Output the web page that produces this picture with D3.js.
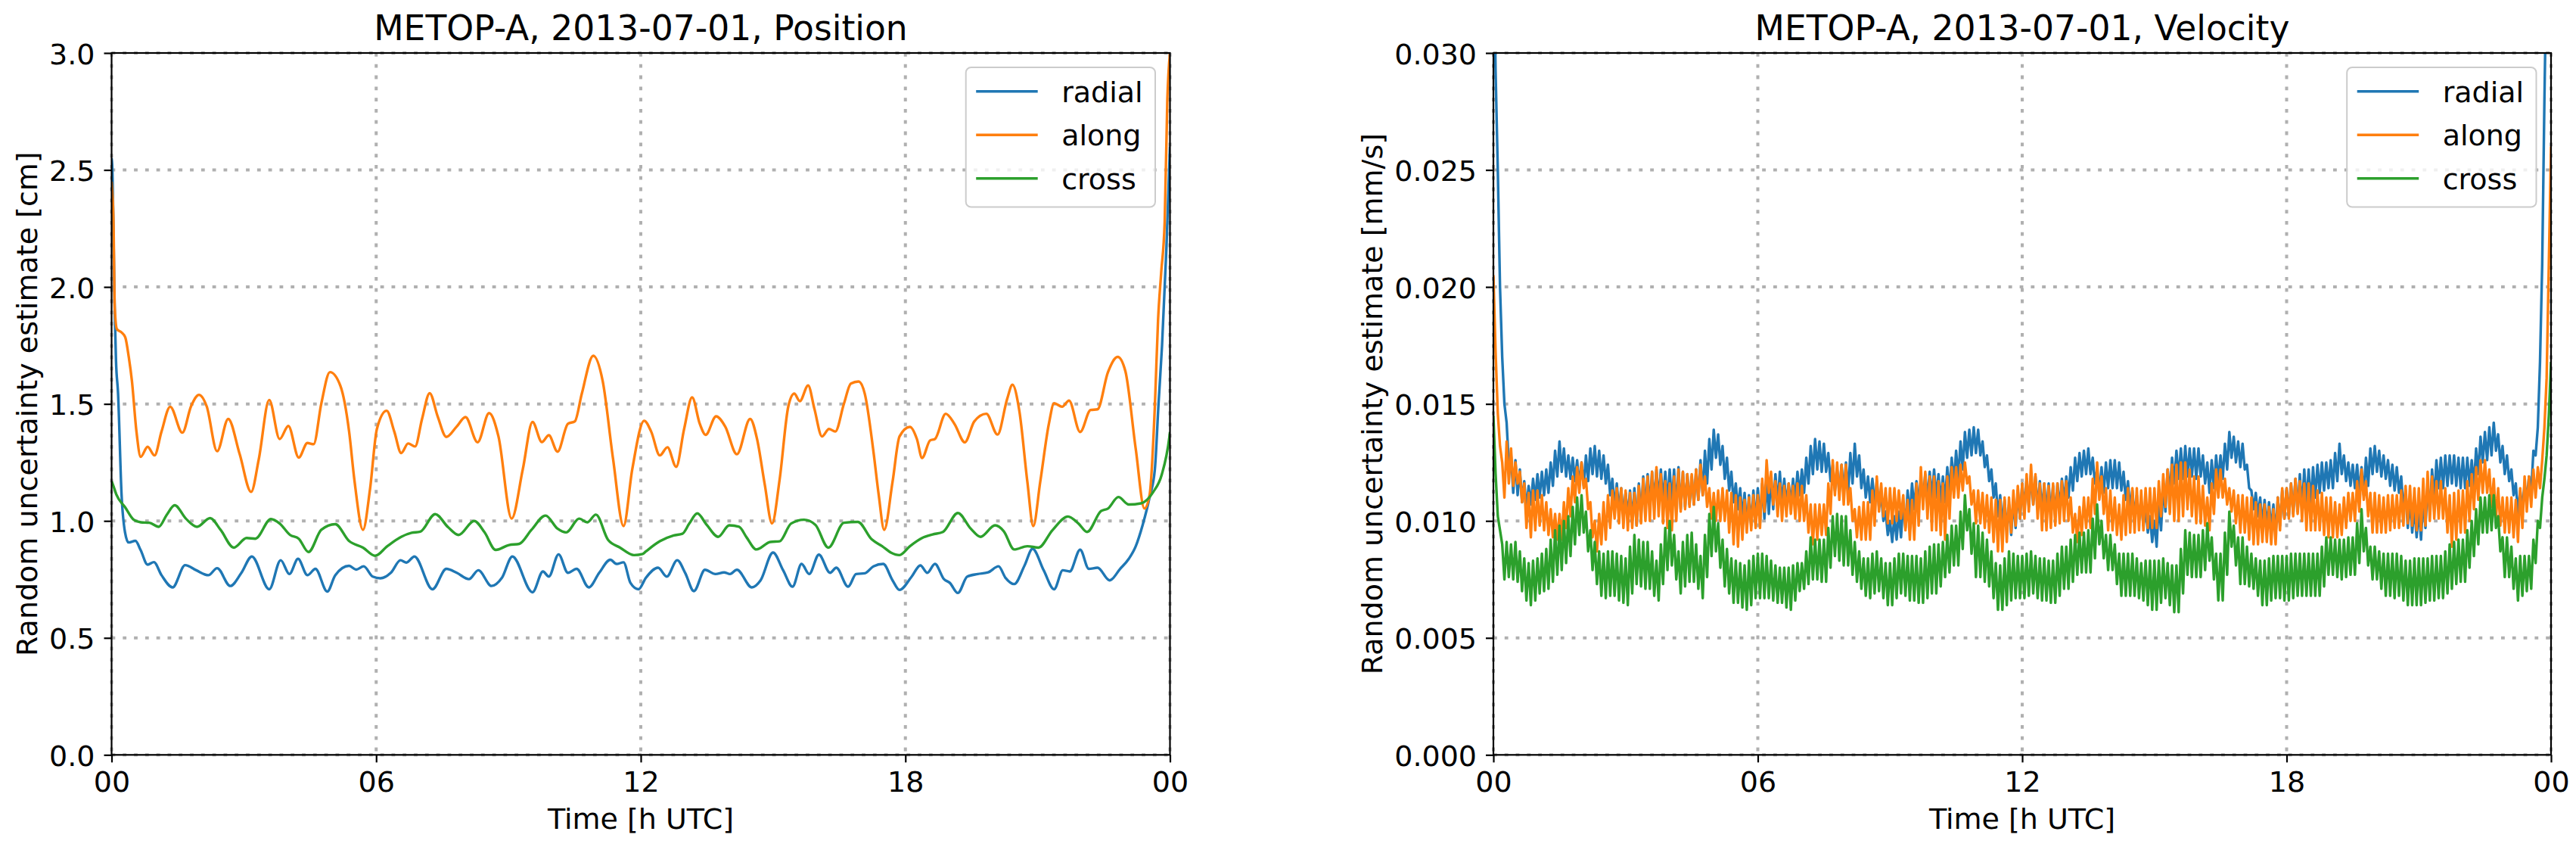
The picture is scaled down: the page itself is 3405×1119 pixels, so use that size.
<!DOCTYPE html>
<html><head><meta charset="utf-8">
<script src="https://cdn.jsdelivr.net/npm/d3@7"></script>
<style>
html,body{margin:0;padding:0;background:#fff;}
svg{display:block;}
</style></head><body>
<svg id="chart" width="3405" height="1119"></svg>
<script>
// ---------------- data ----------------
const seriesNames = ["radial", "along", "cross"];
const seriesColors = ["#1f77b4", "#ff7f0e", "#2ca02c"];
const xTickHours = [0, 6, 12, 18, 24];
const xTickLabels = ["00", "06", "12", "18", "00"];
const posYTicks = [0, 0.5, 1.0, 1.5, 2.0, 2.5, 3.0];
const velYTicks = [0, 0.005, 0.010, 0.015, 0.020, 0.025, 0.030];

// Position uncertainty [cm], pairs of [hour UTC, value]
const posRadial = [[0,2.55],[0.014,2.52],[0.072,1.89],[0.1,1.684],[0.147,1.544],[0.226,1.113],[0.305,0.951],[0.384,0.908],[0.541,0.915],[0.659,0.875],[0.817,0.813],[0.959,0.824],[1.132,0.768],[1.384,0.716],[1.668,0.811],[1.92,0.789],[2.196,0.768],[2.393,0.798],[2.692,0.722],[2.944,0.778],[3.18,0.848],[3.575,0.708],[3.835,0.832],[4.031,0.773],[4.228,0.838],[4.441,0.768],[4.622,0.795],[4.89,0.698],[5.072,0.768],[5.386,0.808],[5.544,0.792],[5.717,0.806],[5.922,0.762],[6.095,0.755],[6.331,0.778],[6.552,0.832],[6.686,0.822],[6.867,0.848],[7.276,0.708],[7.591,0.795],[7.828,0.778],[8.104,0.751],[8.316,0.789],[8.616,0.722],[8.852,0.757],[9.088,0.848],[9.545,0.695],[9.782,0.784],[9.915,0.762],[10.136,0.857],[10.348,0.778],[10.545,0.795],[10.821,0.716],[11.057,0.778],[11.309,0.834],[11.451,0.816],[11.609,0.823],[11.766,0.735],[11.95,0.708],[12.117,0.757],[12.392,0.8],[12.589,0.762],[12.826,0.832],[13.006,0.778],[13.204,0.7],[13.456,0.791],[13.692,0.773],[13.889,0.78],[14.023,0.773],[14.18,0.791],[14.519,0.716],[14.716,0.746],[14.999,0.865],[15.228,0.789],[15.441,0.719],[15.646,0.816],[15.819,0.773],[16.039,0.856],[16.292,0.778],[16.433,0.8],[16.701,0.719],[16.883,0.773],[17.079,0.776],[17.276,0.806],[17.497,0.816],[17.709,0.746],[17.867,0.705],[18.143,0.762],[18.34,0.81],[18.497,0.778],[18.67,0.816],[18.875,0.751],[19.009,0.735],[19.19,0.692],[19.403,0.762],[19.64,0.773],[19.876,0.78],[20.112,0.806],[20.27,0.757],[20.467,0.73],[20.703,0.81],[20.884,0.881],[21.136,0.789],[21.372,0.708],[21.57,0.789],[21.727,0.784],[21.963,0.877],[22.16,0.795],[22.357,0.8],[22.633,0.746],[22.869,0.795],[23.066,0.838],[23.224,0.892],[23.381,0.983],[23.539,1.102],[23.657,1.22],[23.74,1.5],[23.82,1.75],[23.92,2.17],[24,2.6]];
const posAlong = [[0,2.45],[0.014,2.41],[0.043,2.28],[0.072,1.91],[0.12,1.82],[0.23,1.805],[0.31,1.785],[0.39,1.7],[0.46,1.6],[0.565,1.38],[0.66,1.274],[0.817,1.317],[0.974,1.28],[1.132,1.382],[1.329,1.488],[1.605,1.377],[1.802,1.49],[1.983,1.539],[2.156,1.49],[2.393,1.298],[2.645,1.436],[2.905,1.285],[3.164,1.124],[3.338,1.264],[3.574,1.517],[3.811,1.35],[4.008,1.406],[4.244,1.271],[4.44,1.333],[4.582,1.328],[4.755,1.501],[4.952,1.636],[5.189,1.577],[5.386,1.382],[5.504,1.178],[5.701,0.962],[5.859,1.134],[6.016,1.393],[6.237,1.471],[6.41,1.382],[6.567,1.29],[6.725,1.331],[6.882,1.318],[7.04,1.436],[7.213,1.546],[7.394,1.447],[7.591,1.359],[7.828,1.404],[8.025,1.444],[8.3,1.336],[8.56,1.461],[8.773,1.361],[9.072,1.01],[9.324,1.22],[9.545,1.423],[9.757,1.337],[9.915,1.366],[10.112,1.296],[10.348,1.415],[10.506,1.426],[10.663,1.544],[10.923,1.706],[11.136,1.598],[11.372,1.264],[11.609,0.978],[11.806,1.22],[12.077,1.428],[12.235,1.382],[12.432,1.28],[12.605,1.315],[12.802,1.231],[12.983,1.393],[13.164,1.528],[13.338,1.415],[13.471,1.368],[13.708,1.447],[13.913,1.404],[14.18,1.285],[14.48,1.436],[14.637,1.35],[14.811,1.156],[14.976,0.989],[15.149,1.178],[15.346,1.49],[15.48,1.544],[15.606,1.512],[15.795,1.579],[15.937,1.479],[16.11,1.361],[16.268,1.393],[16.41,1.382],[16.607,1.501],[16.764,1.587],[16.937,1.596],[17.079,1.544],[17.276,1.296],[17.394,1.113],[17.52,0.962],[17.709,1.167],[17.867,1.361],[18.103,1.402],[18.261,1.35],[18.379,1.269],[18.56,1.344],[18.67,1.35],[18.915,1.458],[19.112,1.415],[19.348,1.336],[19.561,1.425],[19.836,1.458],[20.089,1.369],[20.309,1.522],[20.427,1.582],[20.585,1.469],[20.766,1.167],[20.9,0.978],[21.058,1.167],[21.254,1.415],[21.372,1.503],[21.554,1.488],[21.711,1.514],[21.963,1.38],[22.199,1.474],[22.357,1.477],[22.594,1.636],[22.814,1.701],[22.987,1.641],[23.224,1.307],[23.421,1.053],[23.539,1.113],[23.657,1.49],[23.73,1.86],[23.8,2.06],[23.88,2.28],[23.94,2.8],[24,3.0]];
const posCross = [[0,1.17],[0.029,1.156],[0.108,1.113],[0.305,1.059],[0.502,1.005],[0.659,0.994],[0.856,0.992],[1.069,0.975],[1.25,1.026],[1.431,1.067],[1.684,1.01],[1.935,0.975],[2.235,1.012],[2.471,0.962],[2.771,0.886],[3.062,0.927],[3.259,0.924],[3.614,1.008],[3.811,0.989],[4.047,0.94],[4.244,0.924],[4.465,0.867],[4.756,0.962],[5.072,0.986],[5.386,0.914],[5.701,0.886],[5.977,0.851],[6.252,0.892],[6.567,0.932],[6.804,0.949],[7.0,0.954],[7.339,1.029],[7.631,0.973],[7.867,0.94],[8.222,1.0],[8.458,0.951],[8.71,0.876],[9.01,0.897],[9.246,0.902],[9.522,0.962],[9.84,1.023],[10.112,0.967],[10.309,0.951],[10.604,1.01],[10.785,0.994],[10.982,1.027],[11.258,0.919],[11.53,0.886],[11.846,0.854],[12.042,0.859],[12.117,0.87],[12.432,0.913],[12.747,0.938],[12.944,0.945],[13.101,0.989],[13.282,1.032],[13.495,0.983],[13.755,0.932],[14.007,0.981],[14.228,0.975],[14.401,0.929],[14.622,0.878],[14.937,0.91],[15.149,0.913],[15.409,0.989],[15.701,1.005],[15.961,0.983],[16.252,0.886],[16.607,0.992],[16.922,0.996],[17.237,0.921],[17.474,0.892],[17.67,0.865],[17.867,0.854],[18.103,0.892],[18.379,0.927],[18.616,0.942],[18.852,0.953],[19.19,1.034],[19.482,0.967],[19.703,0.932],[20.034,0.981],[20.231,0.956],[20.467,0.878],[20.766,0.892],[21.018,0.886],[21.333,0.96],[21.688,1.019],[21.924,0.989],[22.121,0.953],[22.436,1.042],[22.594,1.053],[22.83,1.102],[23.066,1.07],[23.342,1.075],[23.618,1.123],[23.815,1.199],[23.988,1.361],[24,1.38]];

// Velocity uncertainty [mm/s], one sample every velStepHours from 00 UTC
const velStepHours = 0.05;
const velRadial = [
.0360,.0292,.0250,.0200,.0170,.0150,.0142,.0124,.0128,.0112,.0126,.0111,.0122,.0108,.0117,.0105,.0115,.0107,.0118,.0109,
.0120,.0110,.0121,.0111,.0122,.0112,.0125,.0115,.0130,.0119,.0134,.0121,.0131,.0119,.0128,.0118,.0127,.0117,.0126,.0115,
.0125,.0115,.0128,.0117,.0131,.0120,.0132,.0119,.0130,.0118,.0128,.0116,.0124,.0111,.0118,.0105,.0116,.0104,.0114,.0102,
.0112,.0102,.0113,.0100,.0114,.0098,.0116,.0102,.0119,.0105,.0120,.0106,.0121,.0108,.0122,.0109,.0122,.0108,.0121,.0107,
.0122,.0107,.0122,.0105,.0123,.0105,.0121,.0106,.0120,.0107,.0119,.0107,.0122,.0109,.0126,.0111,.0130,.0116,.0135,.0122,
.0139,.0127,.0137,.0124,.0132,.0118,.0127,.0113,.0121,.0108,.0116,.0105,.0114,.0101,.0112,.0097,.0111,.0098,.0113,.0099,
.0114,.0099,.0116,.0101,.0117,.0103,.0119,.0105,.0120,.0107,.0121,.0107,.0118,.0107,.0116,.0107,.0118,.0109,.0121,.0111,
.0122,.0112,.0127,.0116,.0132,.0120,.0135,.0122,.0134,.0121,.0133,.0121,.0129,.0117,.0124,.0113,.0122,.0112,.0124,.0112,
.0125,.0112,.0129,.0116,.0133,.0119,.0128,.0114,.0122,.0110,.0119,.0108,.0118,.0107,.0117,.0106,.0111,.0100,.0104,.0094,
.0100,.0091,.0102,.0092,.0104,.0093,.0108,.0097,.0113,.0102,.0116,.0105,.0117,.0107,.0118,.0109,.0120,.0109,.0121,.0110,
.0122,.0110,.0120,.0108,.0119,.0108,.0123,.0112,.0127,.0116,.0130,.0118,.0134,.0122,.0138,.0127,.0139,.0128,.0140,.0129,
.0139,.0128,.0134,.0123,.0128,.0117,.0122,.0110,.0116,.0102,.0111,.0098,.0109,.0096,.0107,.0094,.0109,.0097,.0113,.0101,
.0116,.0105,.0118,.0106,.0120,.0107,.0119,.0105,.0117,.0104,.0116,.0103,.0116,.0103,.0115,.0102,.0116,.0105,.0118,.0108,
.0119,.0110,.0123,.0113,.0127,.0117,.0129,.0119,.0130,.0120,.0131,.0120,.0127,.0116,.0122,.0111,.0123,.0112,.0125,.0114,
.0126,.0114,.0126,.0114,.0125,.0113,.0121,.0109,.0117,.0105,.0113,.0102,.0111,.0100,.0109,.0098,.0106,.0095,.0102,.0091,
.0100,.0089,.0108,.0096,.0115,.0104,.0122,.0111,.0127,.0116,.0130,.0118,.0131,.0118,.0132,.0119,.0131,.0119,.0131,.0118,
.0131,.0119,.0128,.0116,.0125,.0112,.0126,.0114,.0128,.0117,.0128,.0118,.0133,.0122,.0138,.0127,.0136,.0125,.0134,.0123,
.0133,.0122,.0124,.0114,.0113,.0105,.0112,.0102,.0110,.0098,.0109,.0097,.0108,.0096,.0107,.0094,.0110,.0098,.0113,.0101,
.0114,.0102,.0116,.0103,.0118,.0104,.0120,.0105,.0122,.0107,.0122,.0107,.0123,.0110,.0124,.0112,.0125,.0113,.0125,.0114,
.0126,.0114,.0129,.0117,.0133,.0120,.0128,.0117,.0125,.0115,.0124,.0114,.0124,.0112,.0123,.0111,.0127,.0115,.0131,.0120,
.0132,.0121,.0130,.0119,.0128,.0118,.0126,.0115,.0124,.0113,.0123,.0112,.0119,.0105,.0113,.0097,.0109,.0095,.0106,.0093,
.0105,.0092,.0110,.0097,.0116,.0103,.0122,.0109,.0126,.0114,.0127,.0114,.0128,.0115,.0128,.0116,.0128,.0115,.0127,.0114,
.0127,.0114,.0127,.0115,.0126,.0115,.0131,.0120,.0136,.0125,.0138,.0126,.0140,.0128,.0142,.0130,.0137,.0125,.0132,.0120,
.0128,.0117,.0122,.0111,.0116,.0103,.0113,.0105,.0116,.0109,.0119,.0112,.0130,.0128,.0140,.0168,.0210,.0280,.0340,.0400,
.0460];
const velAlong = [
.0205,.0172,.0146,.0132,.0125,.0110,.0134,.0116,.0131,.0115,.0125,.0116,.0121,.0108,.0116,.0097,.0112,.0093,.0113,.0096,
.0113,.0098,.0111,.0096,.0108,.0094,.0105,.0093,.0103,.0092,.0103,.0092,.0108,.0097,.0114,.0102,.0119,.0108,.0123,.0112,
.0125,.0114,.0118,.0105,.0108,.0093,.0100,.0087,.0103,.0090,.0108,.0092,.0111,.0097,.0113,.0101,.0114,.0099,.0114,.0097,
.0113,.0096,.0112,.0097,.0112,.0098,.0115,.0099,.0118,.0100,.0119,.0100,.0121,.0101,.0123,.0102,.0120,.0099,.0117,.0097,
.0116,.0096,.0119,.0100,.0122,.0104,.0121,.0105,.0120,.0106,.0120,.0107,.0122,.0109,.0124,.0111,.0119,.0106,.0114,.0101,
.0112,.0100,.0113,.0100,.0114,.0100,.0113,.0095,.0112,.0090,.0111,.0089,.0110,.0092,.0109,.0095,.0110,.0096,.0111,.0097,
.0111,.0097,.0118,.0104,.0126,.0112,.0121,.0107,.0117,.0102,.0116,.0100,.0115,.0102,.0116,.0103,.0115,.0101,.0116,.0100,
.0115,.0100,.0111,.0095,.0107,.0090,.0107,.0092,.0107,.0094,.0107,.0094,.0116,.0103,.0126,.0111,.0125,.0109,.0124,.0107,
.0124,.0107,.0114,.0100,.0105,.0093,.0106,.0092,.0108,.0092,.0108,.0092,.0113,.0098,.0119,.0104,.0116,.0102,.0114,.0099,
.0114,.0099,.0114,.0100,.0113,.0101,.0111,.0096,.0109,.0092,.0109,.0092,.0116,.0098,.0123,.0105,.0121,.0101,.0119,.0096,
.0119,.0096,.0117,.0094,.0116,.0092,.0119,.0101,.0123,.0110,.0123,.0110,.0124,.0113,.0125,.0116,.0119,.0107,.0113,.0099,
.0113,.0099,.0112,.0097,.0111,.0095,.0110,.0091,.0109,.0087,.0109,.0087,.0110,.0091,.0110,.0095,.0113,.0098,.0115,.0101,
.0116,.0101,.0120,.0104,.0124,.0107,.0120,.0101,.0116,.0096,.0116,.0096,.0115,.0097,.0116,.0098,.0116,.0099,.0117,.0100,
.0117,.0100,.0110,.0095,.0103,.0091,.0106,.0094,.0110,.0097,.0110,.0097,.0118,.0103,.0125,.0109,.0119,.0103,.0114,.0096,
.0113,.0096,.0110,.0094,.0107,.0092,.0111,.0094,.0114,.0095,.0114,.0095,.0114,.0096,.0113,.0096,.0114,.0097,.0114,.0097,
.0114,.0097,.0117,.0102,.0120,.0106,.0122,.0103,.0124,.0100,.0124,.0100,.0125,.0102,.0125,.0105,.0122,.0102,.0119,.0099,
.0119,.0099,.0115,.0098,.0110,.0096,.0116,.0103,.0122,.0110,.0122,.0110,.0118,.0107,.0114,.0104,.0113,.0099,.0111,.0095,
.0111,.0095,.0110,.0092,.0110,.0090,.0108,.0090,.0107,.0091,.0107,.0091,.0106,.0090,.0105,.0090,.0110,.0096,.0114,.0101,
.0114,.0101,.0116,.0102,.0118,.0103,.0117,.0100,.0116,.0096,.0116,.0096,.0115,.0096,.0113,.0096,.0112,.0094,.0110,.0093,
.0110,.0093,.0108,.0093,.0107,.0094,.0110,.0097,.0112,.0100,.0112,.0100,.0117,.0104,.0122,.0109,.0117,.0102,.0112,.0095,
.0112,.0095,.0111,.0095,.0110,.0095,.0111,.0096,.0111,.0097,.0111,.0097,.0113,.0098,.0115,.0099,.0115,.0098,.0114,.0096,
.0114,.0096,.0118,.0098,.0121,.0100,.0119,.0101,.0117,.0101,.0117,.0101,.0114,.0095,.0111,.0089,.0112,.0092,.0113,.0095,
.0113,.0095,.0117,.0100,.0120,.0105,.0123,.0109,.0126,.0112,.0126,.0112,.0122,.0106,.0118,.0101,.0114,.0098,.0110,.0095,
.0110,.0095,.0110,.0093,.0109,.0091,.0114,.0097,.0119,.0104,.0119,.0106,.0122,.0110,.0123,.0114,.0126,.0140,.0161,.0210,
.0260];
const velCross = [
.0145,.0120,.0102,.0096,.0090,.0075,.0091,.0076,.0090,.0075,.0091,.0074,.0087,.0070,.0084,.0066,.0082,.0064,.0083,.0066,
.0084,.0069,.0086,.0070,.0088,.0071,.0092,.0074,.0096,.0077,.0098,.0079,.0100,.0082,.0102,.0085,.0106,.0090,.0110,.0094,
.0111,.0095,.0104,.0087,.0096,.0079,.0091,.0073,.0087,.0068,.0086,.0067,.0087,.0068,.0087,.0068,.0086,.0066,.0085,.0065,
.0084,.0064,.0089,.0069,.0094,.0073,.0092,.0072,.0091,.0071,.0091,.0071,.0087,.0068,.0083,.0066,.0090,.0073,.0097,.0079,
.0100,.0081,.0094,.0075,.0087,.0069,.0091,.0072,.0094,.0074,.0095,.0074,.0090,.0071,.0085,.0067,.0094,.0076,.0103,.0085,
.0106,.0087,.0099,.0080,.0092,.0072,.0088,.0069,.0084,.0065,.0083,.0065,.0082,.0063,.0081,.0062,.0083,.0064,.0085,.0067,
.0086,.0067,.0086,.0067,.0085,.0067,.0083,.0066,.0081,.0065,.0080,.0065,.0080,.0063,.0080,.0062,.0081,.0066,.0082,.0070,
.0082,.0071,.0087,.0073,.0093,.0075,.0092,.0075,.0092,.0074,.0092,.0074,.0097,.0080,.0102,.0085,.0103,.0083,.0102,.0081,
.0102,.0081,.0096,.0077,.0091,.0074,.0087,.0071,.0084,.0068,.0084,.0067,.0086,.0069,.0087,.0070,.0084,.0067,.0082,.0064,
.0082,.0064,.0084,.0067,.0086,.0069,.0086,.0068,.0085,.0066,.0085,.0066,.0085,.0065,.0084,.0065,.0087,.0067,.0089,.0069,
.0090,.0069,.0090,.0072,.0091,.0076,.0094,.0078,.0098,.0081,.0098,.0081,.0104,.0088,.0111,.0096,.0105,.0086,.0099,.0076,
.0098,.0076,.0095,.0074,.0092,.0072,.0087,.0067,.0082,.0062,.0081,.0062,.0084,.0064,.0087,.0066,.0086,.0067,.0085,.0067,
.0085,.0067,.0086,.0068,.0087,.0069,.0085,.0067,.0084,.0066,.0084,.0066,.0083,.0065,.0083,.0065,.0086,.0068,.0089,.0071,
.0089,.0071,.0092,.0074,.0094,.0077,.0095,.0078,.0095,.0078,.0096,.0078,.0101,.0084,.0107,.0090,.0100,.0084,.0094,.0079,
.0094,.0079,.0090,.0073,.0086,.0068,.0086,.0068,.0086,.0068,.0086,.0068,.0084,.0067,.0082,.0066,.0083,.0064,.0083,.0062,
.0083,.0062,.0083,.0065,.0084,.0067,.0082,.0064,.0081,.0061,.0081,.0061,.0088,.0069,.0096,.0077,.0095,.0076,.0094,.0076,
.0094,.0076,.0096,.0079,.0099,.0083,.0093,.0075,.0086,.0066,.0086,.0066,.0095,.0077,.0104,.0089,.0098,.0081,.0093,.0073,
.0093,.0073,.0089,.0072,.0086,.0071,.0084,.0068,.0083,.0064,.0083,.0064,.0084,.0066,.0085,.0067,.0085,.0067,.0085,.0066,
.0085,.0066,.0086,.0067,.0086,.0068,.0086,.0068,.0086,.0068,.0086,.0068,.0086,.0068,.0086,.0068,.0089,.0072,.0093,.0077,
.0093,.0077,.0092,.0076,.0092,.0075,.0092,.0076,.0093,.0077,.0093,.0077,.0099,.0082,.0105,.0087,.0097,.0081,.0089,.0075,
.0089,.0075,.0087,.0071,.0086,.0068,.0086,.0068,.0086,.0067,.0086,.0068,.0085,.0066,.0083,.0064,.0083,.0064,.0084,.0064,
.0084,.0064,.0084,.0065,.0084,.0066,.0085,.0066,.0085,.0067,.0085,.0067,.0087,.0069,.0090,.0071,.0091,.0073,.0092,.0074,
.0092,.0074,.0096,.0080,.0100,.0085,.0105,.0090,.0110,.0095,.0110,.0095,.0111,.0096,.0111,.0097,.0102,.0087,.0093,.0076,
.0093,.0076,.0089,.0071,.0084,.0066,.0085,.0068,.0085,.0070,.0085,.0071,.0092,.0082,.0100,.0097,.0110,.0118,.0128,.0145,
.0168];

// ---------------- drawing ----------------
const FONT = "'DejaVu Sans', Verdana, sans-serif";
const svg = d3.select("#chart");
svg.append("rect").attr("width", 3405).attr("height", 1119).attr("fill", "#fff");
const defs = svg.append("defs");

const toPairs = arr => arr.map((v, i) => [i * velStepHours, v]);

const panels = [
  { left: 147.5, right: 1546.5, top: 70, bottom: 997.3, yDomain: [0, 3.0], yTicks: posYTicks, fmt: d3.format(".1f"),
    title: "METOP-A, 2013-07-01, Position", ylabel: "Random uncertainty estimate [cm]", ylabelX: 49,
    series: [posRadial, posAlong, posCross], curve: d3.curveMonotoneX },
  { left: 1974, right: 3372, top: 70, bottom: 997.3, yDomain: [0, 0.030], yTicks: velYTicks, fmt: d3.format(".3f"),
    title: "METOP-A, 2013-07-01, Velocity", ylabel: "Random uncertainty estimate [mm/s]", ylabelX: 1826.6,
    series: [toPairs(velRadial), toPairs(velAlong), toPairs(velCross)], curve: d3.curveLinear }
];

panels.forEach((o, idx) => {
  const x = d3.scaleLinear().domain([0, 24]).range([o.left, o.right]);
  const y = d3.scaleLinear().domain(o.yDomain).range([o.bottom, o.top]);
  const g = svg.append("g");
  const clipId = "clip" + idx;
  defs.append("clipPath").attr("id", clipId).append("rect")
    .attr("x", o.left).attr("y", o.top).attr("width", o.right - o.left).attr("height", o.bottom - o.top);

  // grid
  const grid = g.append("g").attr("stroke", "#b0b0b0").attr("stroke-width", 4).attr("stroke-dasharray", "4.8,10");
  grid.selectAll("line.h").data(o.yTicks).join("line").attr("class", "h")
    .attr("x1", o.left).attr("x2", o.right).attr("y1", d => y(d)).attr("y2", d => y(d));
  grid.selectAll("line.v").data(xTickHours).join("line").attr("class", "v")
    .attr("x1", d => x(d)).attr("x2", d => x(d)).attr("y1", o.top).attr("y2", o.bottom);

  // data lines
  const line = d3.line().x(d => x(d[0])).y(d => y(d[1])).curve(o.curve);
  g.append("g").attr("clip-path", `url(#${clipId})`)
    .selectAll("path").data(o.series).join("path")
    .attr("d", line).attr("fill", "none")
    .attr("stroke", (d, i) => seriesColors[i])
    .attr("stroke-width", 3.4).attr("stroke-linejoin", "round").attr("stroke-linecap", "butt");

  // spines
  g.append("rect").attr("x", o.left).attr("y", o.top).attr("width", o.right - o.left).attr("height", o.bottom - o.top)
    .attr("fill", "none").attr("stroke", "#000").attr("stroke-width", 2.2);

  // axes
  const xa = g.append("g").attr("transform", `translate(0,${o.bottom})`)
    .call(d3.axisBottom(x).tickValues(xTickHours).tickFormat((d, i) => xTickLabels[i]).tickSize(10).tickSizeOuter(0).tickPadding(12.2));
  const ya = g.append("g").attr("transform", `translate(${o.left},0)`)
    .call(d3.axisLeft(y).tickValues(o.yTicks).tickFormat(o.fmt).tickSize(10).tickSizeOuter(0).tickPadding(12));
  [xa, ya].forEach(a => {
    a.select(".domain").remove();
    a.attr("font-family", FONT).attr("font-size", 38);
    a.selectAll(".tick line").attr("stroke", "#000").attr("stroke-width", 2.2);
    a.selectAll(".tick text").attr("fill", "#000");
  });
  ya.selectAll(".tick text").attr("dy", "0.37em");

  const cx = (o.left + o.right) / 2, cy = (o.top + o.bottom) / 2;
  g.append("text").attr("x", cx).attr("y", 53).attr("text-anchor", "middle")
    .attr("font-family", FONT).attr("font-size", 45.6).attr("fill", "#000").text(o.title);
  g.append("text").attr("x", cx).attr("y", 1095).attr("text-anchor", "middle")
    .attr("font-family", FONT).attr("font-size", 38).attr("fill", "#000").text("Time [h UTC]");
  g.append("text").attr("transform", `translate(${o.ylabelX},${cy}) rotate(-90)`).attr("text-anchor", "middle")
    .attr("font-family", FONT).attr("font-size", 38).attr("fill", "#000").text(o.ylabel);

  // legend
  const lw = 250.3, lh = 184.5, lx = o.right - 19.5 - lw, ly = 89;
  const lg = g.append("g");
  lg.append("rect").attr("x", lx).attr("y", ly).attr("width", lw).attr("height", lh).attr("rx", 7)
    .attr("fill", "#fff").attr("fill-opacity", 0.8).attr("stroke", "#cccccc").attr("stroke-width", 2);
  seriesNames.forEach((name, i) => {
    const yy = 120.7 + i * 57.5;
    lg.append("line").attr("x1", lx + 13.5).attr("x2", lx + 95).attr("y1", yy).attr("y2", yy)
      .attr("stroke", seriesColors[i]).attr("stroke-width", 3.4);
    lg.append("text").attr("x", lx + 126.5).attr("y", yy + 14).attr("font-family", FONT).attr("font-size", 38)
      .attr("fill", "#000").text(name);
  });
});
</script>
</body></html>
